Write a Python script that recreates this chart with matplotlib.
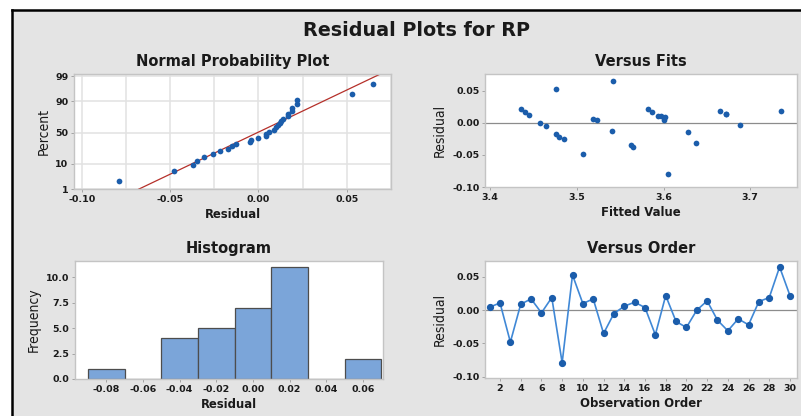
import numpy as np
import matplotlib
matplotlib.use("Agg")
import matplotlib.pyplot as plt
from matplotlib.patches import Rectangle
from matplotlib.lines import Line2D
from statistics import NormalDist

# residuals in observation order
observation = list(range(1, 31))
residual = [0.0045, 0.011, -0.048, 0.009, 0.017, -0.004, 0.019, -0.079, 0.053, 0.010,
            0.017, -0.035, -0.005, 0.006, 0.012, 0.004, -0.037, 0.022, -0.017, -0.026,
            0.000, 0.014, -0.015, -0.031, -0.013, -0.022, 0.013, 0.019, 0.065, 0.022]
# fitted values for the same observations (Versus Fits panel)
fitted = [3.600, 3.594, 3.507, 3.602, 3.440, 3.688, 3.735, 3.605, 3.476, 3.597,
          3.587, 3.562, 3.464, 3.519, 3.445, 3.523, 3.565, 3.435, 3.476, 3.485,
          3.458, 3.672, 3.628, 3.637, 3.541, 3.479, 3.672, 3.665, 3.542, 3.582]

hist_bins = [-0.09, -0.07, -0.05, -0.03, -0.01, 0.01, 0.03, 0.05, 0.07]
hist_ticks = [-0.08, -0.06, -0.04, -0.02, 0.00, 0.02, 0.04, 0.06]
pct_ticks = [1, 10, 50, 90, 99]
order_ticks = list(range(2, 31, 2))

BG = "#e4e4e4"
DOT = "#1b5dab"
LINE = "#4088d6"
BAR = "#7ba5d9"
SPINE = "#c4c4c4"
TXT = "#1a1a1a"

W, H = 801, 416
fig = plt.figure(figsize=(W / 100, H / 100), dpi=100, facecolor="white")

# grey panel with black frame at top/left
fig.patches.append(Rectangle((12 / W, 0), 1, 1 - 10 / H, transform=fig.transFigure,
                             facecolor=BG, edgecolor="none", zorder=-10))
fig.lines.append(Line2D([12 / W, 1], [1 - 10 / H] * 2, transform=fig.transFigure,
                        color="black", lw=1.8))
fig.lines.append(Line2D([12 / W] * 2, [0, 1 - 10 / H], transform=fig.transFigure,
                        color="black", lw=1.8))

fig.text(416 / W, 1 - 31 / H, "Residual Plots for RP", ha="center", va="center",
         fontsize=13.8, fontweight="bold", color=TXT)


def make_ax(l, t, r, b):
    ax = fig.add_axes([l / W, 1 - b / H, (r - l) / W, (b - t) / H])
    ax.set_facecolor("white")
    for s in ax.spines.values():
        s.set_color(SPINE)
        s.set_linewidth(1.0)
    ax.tick_params(labelsize=6.8, colors=TXT, length=2, width=0.6, color="#999999", pad=2)
    return ax


def style_labels(ax, title, xlabel, ylabel, ylabelpad=4):
    ax.set_title(title, fontsize=10.5, fontweight="bold", color=TXT, pad=6)
    ax.set_xlabel(xlabel, fontsize=8.4, fontweight="bold", color=TXT, labelpad=3)
    ax.set_ylabel(ylabel, fontsize=10, fontstretch="condensed", color=TXT,
                  labelpad=ylabelpad)
    for lab in ax.get_xticklabels() + ax.get_yticklabels():
        lab.set_fontweight("bold")


# --- Normal probability plot
ax1 = make_ax(74, 74, 391, 189)
nd = NormalDist()
n = len(residual)
srt = np.sort(residual)
zq = [nd.inv_cdf((i - 0.3) / (n + 0.4)) for i in range(1, n + 1)]
mu = np.mean(residual)
sd = np.std(residual, ddof=1)
zline = np.array([-3.0, 3.0])
ax1.plot(mu + sd * zline, zline, color="#b5302a", lw=0.9, zorder=2)
ax1.scatter(srt, zq, s=17, color=DOT, zorder=3, linewidths=0)
ax1.set_xlim(-0.1045, 0.0751)
ax1.set_ylim(nd.inv_cdf(0.01), 2.41)
ax1.set_xticks([-0.10, -0.05, 0.00, 0.05])
ax1.set_xticklabels(["-0.10", "-0.05", "0.00", "0.05"])
ax1.set_xticks([-0.075, -0.025, 0.025, 0.075], minor=True)
ax1.set_yticks([nd.inv_cdf(p / 100) for p in pct_ticks])
ax1.set_yticklabels([str(p) for p in pct_ticks])
ax1.grid(True, which="both", color="#e2e2e2", lw=1.1, zorder=0)
ax1.tick_params(which="minor", length=0)
ax1.set_axisbelow(True)
style_labels(ax1, "Normal Probability Plot", "Residual", "Percent", ylabelpad=3)

# --- Versus fits
ax2 = make_ax(485, 74, 797, 187)
ax2.axhline(0, color="#8c8c8c", lw=0.9, zorder=1)
ax2.scatter(fitted, residual, s=17, color=DOT, zorder=3, linewidths=0)
ax2.set_xlim(3.394, 3.754)
ax2.set_ylim(-0.1, 0.076)
ax2.set_xticks([3.4, 3.5, 3.6, 3.7])
ax2.set_yticks([-0.10, -0.05, 0.00, 0.05])
ax2.set_yticklabels(["-0.10", "-0.05", "0.00", "0.05"])
style_labels(ax2, "Versus Fits", "Fitted Value", "Residual")

# --- Histogram
ax3 = make_ax(75, 261, 383, 379)
ax3.hist(residual, bins=hist_bins, color=BAR, edgecolor="#4d4d4d", linewidth=0.9, zorder=2)
ax3.set_xlim(-0.097, 0.071)
ax3.set_ylim(0, 11.6)
ax3.set_xticks(hist_ticks)
ax3.set_xticklabels(["%.2f" % v for v in hist_ticks])
ax3.set_yticks([0, 2.5, 5, 7.5, 10])
ax3.set_yticklabels(["0.0", "2.5", "5.0", "7.5", "10.0"])
style_labels(ax3, "Histogram", "Residual", "Frequency")

# --- Versus order
ax4 = make_ax(485, 261, 797, 378)
ax4.axhline(0, color="#8c8c8c", lw=0.9, zorder=1)
ax4.plot(observation, residual, color=LINE, lw=1.2, marker="o", ms=4.2,
         mfc=DOT, mec=DOT, zorder=3)
ax4.set_xlim(0.55, 30.68)
ax4.set_ylim(-0.102, 0.074)
ax4.set_xticks(order_ticks)
ax4.set_yticks([-0.10, -0.05, 0.00, 0.05])
ax4.set_yticklabels(["-0.10", "-0.05", "0.00", "0.05"])
style_labels(ax4, "Versus Order", "Observation Order", "Residual")

fig.savefig("out.png", dpi=100, facecolor="white")
